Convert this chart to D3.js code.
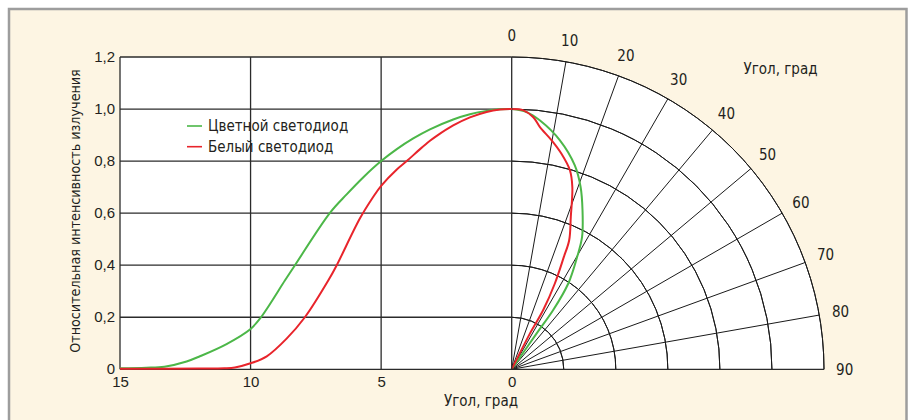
<!DOCTYPE html>
<html>
<head>
<meta charset="utf-8">
<script src="https://cdn.jsdelivr.net/npm/d3@7"></script>
<style>
  body { margin: 0; background: #fff; }
  svg { display: block; }
  text { font-family: "Liberation Sans Narrow", "Arial Narrow", "DejaVu Sans Condensed", sans-serif; fill: #231f20; }
</style>
</head>
<body>
<div id="chart"></div>
<script>
// left panel: intensity vs angle (0..15 grad)
const greenAngle = [15, 14, 13.3, 12.45, 11.94, 10.92, 10, 9.6, 8.68, 8.3, 6.96, 6.32, 5.68, 5.0, 4.4, 3.77, 3.13, 2.24, 1.6, 0.96, 0.45, 0];
const greenValue = [0.004, 0.006, 0.01, 0.03, 0.05, 0.097, 0.155, 0.2, 0.342, 0.4, 0.601, 0.672, 0.738, 0.8, 0.846, 0.887, 0.922, 0.96, 0.98, 0.993, 0.999, 1.0];
const redAngle = [15, 12, 11, 10.6, 10, 9.38, 8.62, 7.92, 7.02, 6.7, 5.81, 5.3, 5.0, 4.4, 4.02, 3.51, 3.13, 2.87, 2.24, 1.6, 0.96, 0.45, 0];
const redValue = [0.002, 0.003, 0.004, 0.007, 0.023, 0.05, 0.118, 0.2, 0.342, 0.4, 0.58, 0.663, 0.705, 0.768, 0.8, 0.846, 0.878, 0.897, 0.937, 0.968, 0.989, 0.998, 1.0];

// right panel: polar diagram (angle 0..90 grad)
const greenPolarAngle = [0, 3.3, 6.5, 11.9, 17.2, 20.7, 24, 28, 30.2, 33.4, 35, 34.8, 34];
const greenPolarValue = [1.0, 0.99, 0.962, 0.899, 0.82, 0.749, 0.669, 0.576, 0.5, 0.395, 0.278, 0.168, 0];
const redPolarAngle = [0, 2.6, 4.9, 6.65, 9.9, 13, 16.3, 18.4, 21.2, 24, 24.9, 26.7, 28, 27, 27];
const redPolarValue = [1.0, 0.996, 0.972, 0.937, 0.893, 0.85, 0.797, 0.738, 0.628, 0.543, 0.476, 0.369, 0.258, 0.155, 0];

const xTicks = [15, 10, 5, 0];
const yTicks = [0, 0.2, 0.4, 0.6, 0.8, 1.0, 1.2];
const polarTicks = [0, 10, 20, 30, 40, 50, 60, 70, 80, 90];
const ringTicks = [0.2, 0.4, 0.6, 0.8, 1.0, 1.2];

const seriesNames = ['Цветной светодиод', 'Белый светодиод'];
const seriesColors = ['#4cb748', '#e8242b'];

const width = 912, height = 420;
const fs = '15px';
const svg = d3.select('#chart').append('svg').attr('width', width).attr('height', height);

// frame
svg.append('rect')
  .attr('x', 9).attr('y', 9).attr('width', 897.5).attr('height', 430)
  .attr('fill', '#fdf5e3').attr('stroke', '#9d9d9d').attr('stroke-width', 2.5);

const x = d3.scaleLinear().domain([15, 0]).range([120, 511.7]);
const y = d3.scaleLinear().domain([0, 1.2]).range([369.3, 57]);
const r = d3.scaleLinear().domain([0, 1.2]).range([0, y(0) - y(1.2)]);
const cx = x(0), cy = y(0);
const rad = (d) => d * Math.PI / 180;

// white plot areas
svg.append('rect')
  .attr('x', x(15)).attr('y', y(1.2))
  .attr('width', x(0) - x(15)).attr('height', y(0) - y(1.2))
  .attr('fill', '#fff');

const polar = svg.append('g').attr('transform', 'translate(' + cx + ',' + cy + ')');
polar.append('path')
  .attr('d', d3.arc()({ innerRadius: 0, outerRadius: r(1.2), startAngle: 0, endAngle: Math.PI / 2 }))
  .attr('fill', '#fff');

// left grid
const grid = svg.append('g').attr('stroke', '#2b2b2b').attr('stroke-width', 1.3);
grid.selectAll('.h').data(yTicks.filter((d) => d > 0)).enter().append('line')
  .attr('x1', x(15)).attr('x2', x(0)).attr('y1', (d) => y(d)).attr('y2', (d) => y(d));
grid.selectAll('.v').data(xTicks).enter().append('line')
  .attr('x1', (d) => x(d)).attr('x2', (d) => x(d)).attr('y1', y(0)).attr('y2', y(1.2));
grid.append('line')
  .attr('x1', x(15)).attr('x2', cx + r(1.2)).attr('y1', y(0)).attr('y2', y(0));

// polar grid
const pg = polar.append('g').attr('fill', 'none').attr('stroke', '#1a1a1a').attr('stroke-width', 1);
pg.selectAll('path').data(ringTicks).enter().append('path')
  .attr('d', (d) => d3.arc()({ innerRadius: r(d), outerRadius: r(d), startAngle: 0, endAngle: Math.PI / 2 }));
pg.selectAll('line').data(polarTicks.filter((d) => d > 0 && d < 90)).enter().append('line')
  .attr('x1', 0).attr('y1', 0)
  .attr('x2', (d) => r(1.2) * Math.sin(rad(d)))
  .attr('y2', (d) => -r(1.2) * Math.cos(rad(d)));

// polar labels
polar.selectAll('text.pl').data(polarTicks).enter().append('text')
  .attr('class', 'pl')
  .attr('x', (d) => 334 * Math.sin(rad(d)) + (d === 90 ? -1 : 0))
  .attr('y', (d) => -334 * Math.cos(rad(d)))
  .attr('dy', '0.35em')
  .attr('text-anchor', 'middle')
  .style('font-size', fs)
  .text((d) => d);

// axes
const fmt = (d) => (d === 0 ? '0' : d.toFixed(1).replace('.', ','));
const yAxis = svg.append('g')
  .attr('transform', 'translate(' + x(15) + ',0)')
  .call(d3.axisLeft(y).tickValues(yTicks).tickSize(0).tickPadding(5).tickFormat(fmt));
const xAxis = svg.append('g')
  .attr('transform', 'translate(0,' + y(0) + ')')
  .call(d3.axisBottom(x).tickValues(xTicks).tickSize(0).tickPadding(7).tickFormat((d) => d));
[xAxis, yAxis].forEach((a) => {
  a.select('.domain').remove();
  a.selectAll('text').style('font-size', fs).attr('fill', '#231f20')
    .style('font-family', '"Liberation Sans Narrow", "Arial Narrow", sans-serif');
});
yAxis.selectAll('text').attr('dy', '0.3em');

// axis titles
svg.append('text')
  .attr('x', 481).attr('y', 406).attr('text-anchor', 'middle')
  .style('font-size', fs).text('Угол, град');
svg.append('text')
  .attr('x', 780.5).attr('y', 74).attr('text-anchor', 'middle')
  .style('font-size', fs).text('Угол, град');
svg.append('text')
  .attr('transform', 'translate(80,211) rotate(-90)')
  .attr('text-anchor', 'middle')
  .style('font-size', '14.2px').text('Относительная интенсивность излучения');

// curves
const lineL = d3.line().x((d) => x(d[0])).y((d) => y(d[1])).curve(d3.curveCatmullRom.alpha(0.5));
const lineP = d3.lineRadial().angle((d) => rad(d[0])).radius((d) => r(d[1])).curve(d3.curveCatmullRom.alpha(0.5));

const leftData = [d3.zip(greenAngle, greenValue), d3.zip(redAngle, redValue)];
const polarData = [d3.zip(greenPolarAngle, greenPolarValue), d3.zip(redPolarAngle, redPolarValue)];

svg.selectAll('path.left').data(leftData).enter().append('path')
  .attr('class', 'left')
  .attr('d', lineL)
  .attr('fill', 'none')
  .attr('stroke', (d, i) => seriesColors[i])
  .attr('stroke-width', 2);

polar.selectAll('path.pol').data(polarData).enter().append('path')
  .attr('class', 'pol')
  .attr('d', lineP)
  .attr('fill', 'none')
  .attr('stroke', (d, i) => seriesColors[i])
  .attr('stroke-width', 2);

// legend
const legend = svg.append('g');
seriesNames.forEach((name, i) => {
  const ly = 126 + i * 20.7;
  legend.append('line')
    .attr('x1', 187).attr('x2', 202).attr('y1', ly).attr('y2', ly)
    .attr('stroke', seriesColors[i]).attr('stroke-width', 1.6);
  legend.append('text')
    .attr('x', 208).attr('y', ly + 5.3)
    .style('font-size', fs).text(name);
});
</script>
</body>
</html>
